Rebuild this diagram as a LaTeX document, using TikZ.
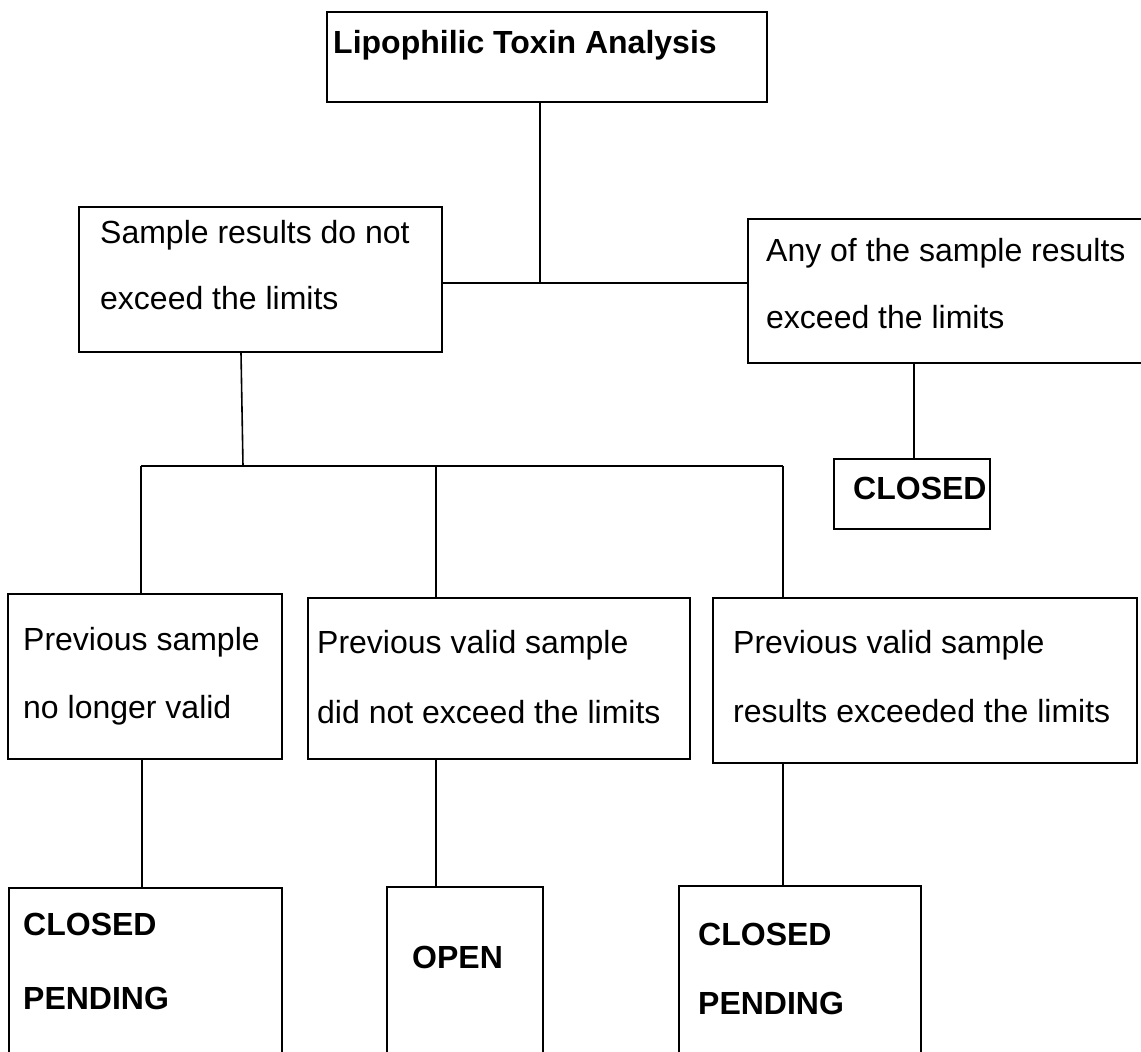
\documentclass[tikz,border=0pt]{standalone}
\usepackage{fontspec}
\setmainfont{Liberation Sans}
\begin{document}
\begin{tikzpicture}[x=1pt,y=-1pt,
  box/.style={draw,line width=1.6pt,rectangle,inner sep=0pt,anchor=north west},
  txt/.style={anchor=base west,inner sep=0pt,font=\fontsize{32}{38}\selectfont},
  btxt/.style={anchor=base west,inner sep=0pt,font=\fontsize{32}{38}\selectfont\bfseries},
  wire/.style={line width=1.6pt}]
\useasboundingbox (0,0) rectangle (1141,1052);

% boxes
\node[box,minimum width=440pt,minimum height=90pt] (top) at (326,11) {};
\node[box,minimum width=363pt,minimum height=145pt] (A) at (78,206) {};
\node[box,minimum width=410pt,minimum height=144pt] (B) at (747,218) {};
\node[box,minimum width=156pt,minimum height=70pt] (C) at (833,458) {};
\node[box,minimum width=274pt,minimum height=165pt] (P1) at (7,593) {};
\node[box,minimum width=382pt,minimum height=161pt] (P2) at (307,597) {};
\node[box,minimum width=424pt,minimum height=165pt] (P3) at (712,597) {};
\node[box,minimum width=273pt,minimum height=180pt] (Q1) at (8,887) {};
\node[box,minimum width=156pt,minimum height=180pt] (Q2) at (386,886) {};
\node[box,minimum width=242pt,minimum height=180pt] (Q3) at (678,885) {};

% texts
\node[btxt] (tTop) at (333,53) {Lipophilic Toxin Analysis};
\node[txt] (tA1) at (100,243) {Sample results do not};
\node[txt] (tA2) at (100,309) {exceed the limits};
\node[txt] (tB1) at (766,261) {Any of the sample results};
\node[txt] (tB2) at (766,328) {exceed the limits};
\node[btxt] (tC) at (853,499) {CLOSED};
\node[txt] (tP11) at (23,650) {Previous sample};
\node[txt] (tP12) at (23,718) {no longer valid};
\node[txt] (tP21) at (317,653) {Previous valid sample};
\node[txt] (tP22) at (317,723) {did not exceed the limits};
\node[txt] (tP31) at (733,653) {Previous valid sample};
\node[txt] (tP32) at (733,722) {results exceeded the limits};
\node[btxt] (tQ11) at (23,935) {CLOSED};
\node[btxt] (tQ12) at (23,1009) {PENDING};
\node[btxt] (tQ2) at (412,968) {OPEN};
\node[btxt] (tQ31) at (698,945) {CLOSED};
\node[btxt] (tQ32) at (698,1014) {PENDING};

% junction points
\coordinate (j1) at (540,283);
\coordinate (cB) at (914,0);
\coordinate (aX) at (241,0);
\coordinate (dA) at (243,466);
\coordinate (busL) at (141,466);
\coordinate (busM) at (436,466);
\coordinate (busR) at (783,466);

% connectors
\draw[wire] (top.south -| j1) -- (j1);
\draw[wire] (A.east |- j1) -- (B.west |- j1);
\draw[wire] (B.south -| cB) -- (C.north -| cB);
\draw[wire] (A.south -| aX) -- (dA);
\draw[wire] (busL) -- (busR);
\draw[wire] (busL) -- (P1.north -| busL);
\draw[wire] (busM) -- (P2.north -| busM);
\draw[wire] (busR) -- (P3.north -| busR);
\draw[wire] ([xshift=1pt]P1.south -| busL) -- ([xshift=1pt]Q1.north -| busL);
\draw[wire] (P2.south -| busM) -- (Q2.north -| busM);
\draw[wire] (P3.south -| busR) -- (Q3.north -| busR);
\end{tikzpicture}
\end{document}
